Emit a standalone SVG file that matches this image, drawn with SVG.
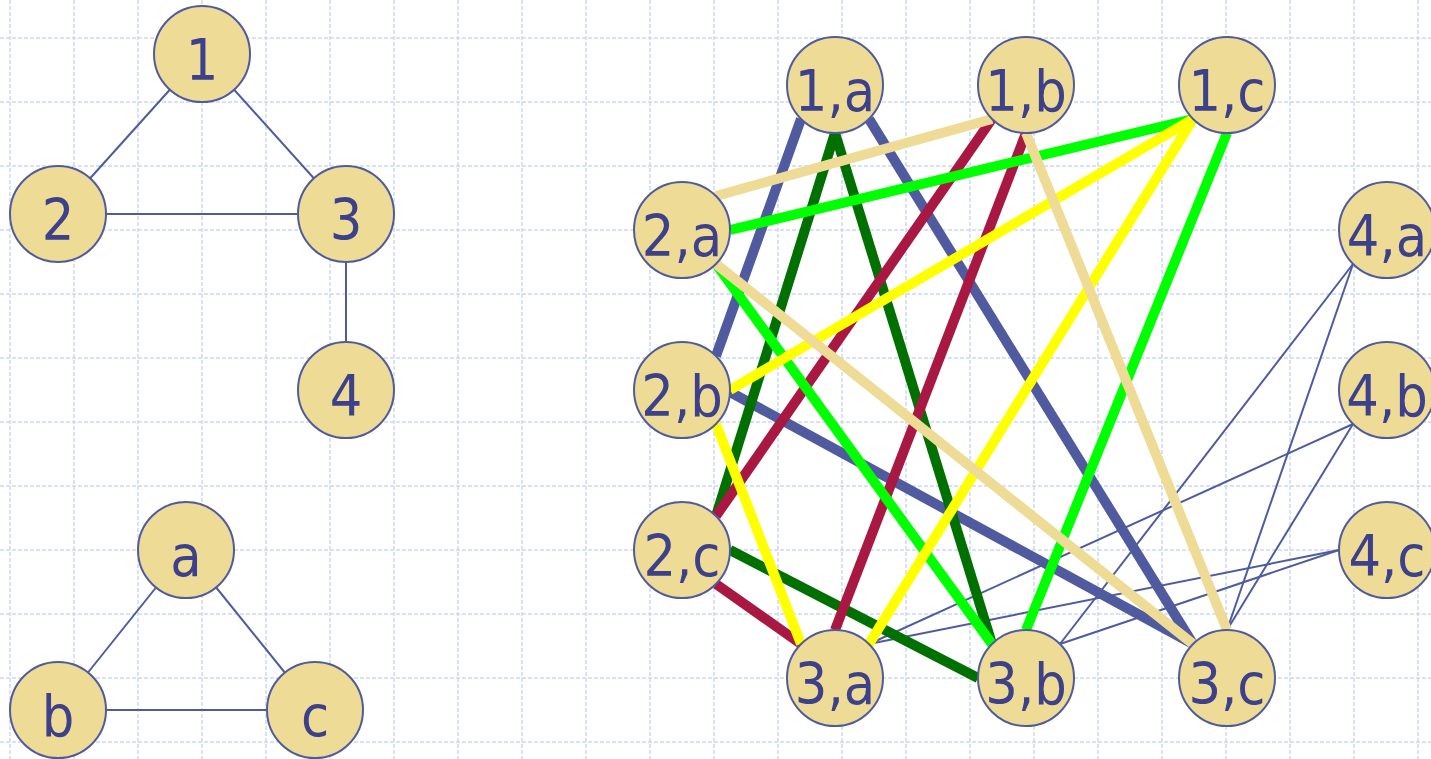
<svg xmlns="http://www.w3.org/2000/svg" width="1431" height="759" viewBox="0 0 1431 759">
<style>
.grid{stroke:#cbd7f4;stroke-width:1.5;stroke-dasharray:4 2;fill:none}
.nd circle{fill:#eedc96;stroke:#4f5b9e;stroke-width:2}
.nd text{font-family:"DejaVu Sans Condensed","DejaVu Sans",sans-serif;font-size:57px;fill:#3d408a;text-anchor:middle}
.thin{stroke:#4f5b9e;stroke-width:2;fill:none}
.th{stroke-width:10;fill:none;stroke-linecap:butt}
.bl{stroke:#4f5b9e}.dg{stroke:#007000}.tn{stroke:#eedc96}.bg{stroke:#00ff00}.cr{stroke:#a81842}.ye{stroke:#ffff00}
</style>
<rect width="1431" height="759" fill="#ffffff"/>
<g id="grid" class="grid">
<path d="M10 0V759M74 0V759M138 0V759M202 0V759M266 0V759M330 0V759M394 0V759M458 0V759M522 0V759M586 0V759M650 0V759M714 0V759M778 0V759M842 0V759M906 0V759M970 0V759M1034 0V759M1098 0V759M1162 0V759M1226 0V759M1290 0V759M1354 0V759M1418 0V759"/>
<path d="M0 38H1431M0 102H1431M0 166H1431M0 230H1431M0 294H1431M0 358H1431M0 422H1431M0 486H1431M0 550H1431M0 614H1431M0 678H1431M0 742H1431"/>
</g>
<g id="connectors">
<line class="thin" x1="202" y1="54" x2="58" y2="214"/>
<line class="thin" x1="202" y1="54" x2="346" y2="214"/>
<line class="thin" x1="58" y1="214" x2="346" y2="214"/>
<line class="thin" x1="346" y1="214" x2="346" y2="390"/>
<line class="thin" x1="186" y1="550" x2="58" y2="710"/>
<line class="thin" x1="186" y1="550" x2="315" y2="710"/>
<line class="thin" x1="58" y1="710" x2="315" y2="710"/>
<line class="thin" x1="1353" y1="264" x2="1060" y2="644"/>
<line class="thin" x1="1353" y1="264" x2="1227" y2="630"/>
<line class="thin" x1="1353" y1="424" x2="869" y2="644"/>
<line class="thin" x1="1353" y1="424" x2="1227" y2="630"/>
<line class="thin" x1="1339" y1="550" x2="869" y2="644"/>
<line class="thin" x1="1339" y1="550" x2="1060" y2="644"/>
<line class="th bl" x1="801" y1="119" x2="716" y2="356"/>
<line class="th bl" x1="869" y1="119" x2="1193" y2="644"/>
<line class="th bl" x1="730" y1="392" x2="1193" y2="644"/>
<line class="th dg" x1="835" y1="133" x2="716" y2="516"/>
<line class="th dg" x1="835" y1="133" x2="992" y2="644"/>
<line class="th dg" x1="730" y1="550" x2="978" y2="678"/>
<line class="th cr" x1="992" y1="119" x2="716" y2="516"/>
<line class="th cr" x1="1026" y1="133" x2="835" y2="630"/>
<line class="th cr" x1="716" y1="584" x2="801" y2="644"/>
<line class="th bg" x1="1193" y1="119" x2="730" y2="230"/>
<line class="th bg" x1="1227" y1="133" x2="1026" y2="630"/>
<line class="th bg" x1="716" y1="264" x2="992" y2="644"/>
<line class="th ye" x1="1193" y1="119" x2="730" y2="390"/>
<line class="th ye" x1="1193" y1="119" x2="869" y2="644"/>
<line class="th ye" x1="716" y1="424" x2="801" y2="644"/>
<line class="th tn" x1="992" y1="119" x2="716" y2="196"/>
<line class="th tn" x1="1026" y1="133" x2="1227" y2="630"/>
<line class="th tn" x1="716" y1="264" x2="1193" y2="644"/>
</g>
<g id="n1" class="nd"><circle cx="202" cy="54" r="48"/><text x="202" y="80">1</text></g>
<g id="n2" class="nd"><circle cx="58" cy="214" r="48"/><text x="58" y="240">2</text></g>
<g id="n3" class="nd"><circle cx="346" cy="214" r="48"/><text x="346" y="240">3</text></g>
<g id="n4" class="nd"><circle cx="346" cy="390" r="48"/><text x="346" y="416">4</text></g>
<g id="na" class="nd"><circle cx="186" cy="550" r="48"/><text x="186" y="576">a</text></g>
<g id="nb" class="nd"><circle cx="58" cy="710" r="48"/><text x="58" y="736">b</text></g>
<g id="nc" class="nd"><circle cx="315" cy="710" r="48"/><text x="315" y="736">c</text></g>
<g id="n1a" class="nd"><circle cx="835" cy="85" r="48"/><text x="835" y="111">1,a</text></g>
<g id="n1b" class="nd"><circle cx="1026" cy="85" r="48"/><text x="1026" y="111">1,b</text></g>
<g id="n1c" class="nd"><circle cx="1227" cy="85" r="48"/><text x="1227" y="111">1,c</text></g>
<g id="n2a" class="nd"><circle cx="682" cy="230" r="48"/><text x="682" y="256">2,a</text></g>
<g id="n2b" class="nd"><circle cx="682" cy="390" r="48"/><text x="682" y="416">2,b</text></g>
<g id="n2c" class="nd"><circle cx="682" cy="550" r="48"/><text x="682" y="576">2,c</text></g>
<g id="n3a" class="nd"><circle cx="835" cy="678" r="48"/><text x="835" y="704">3,a</text></g>
<g id="n3b" class="nd"><circle cx="1026" cy="678" r="48"/><text x="1026" y="704">3,b</text></g>
<g id="n3c" class="nd"><circle cx="1227" cy="678" r="48"/><text x="1227" y="704">3,c</text></g>
<g id="n4a" class="nd"><circle cx="1387" cy="230" r="48"/><text x="1387" y="256">4,a</text></g>
<g id="n4b" class="nd"><circle cx="1387" cy="390" r="48"/><text x="1387" y="416">4,b</text></g>
<g id="n4c" class="nd"><circle cx="1387" cy="550" r="48"/><text x="1387" y="576">4,c</text></g>
</svg>
